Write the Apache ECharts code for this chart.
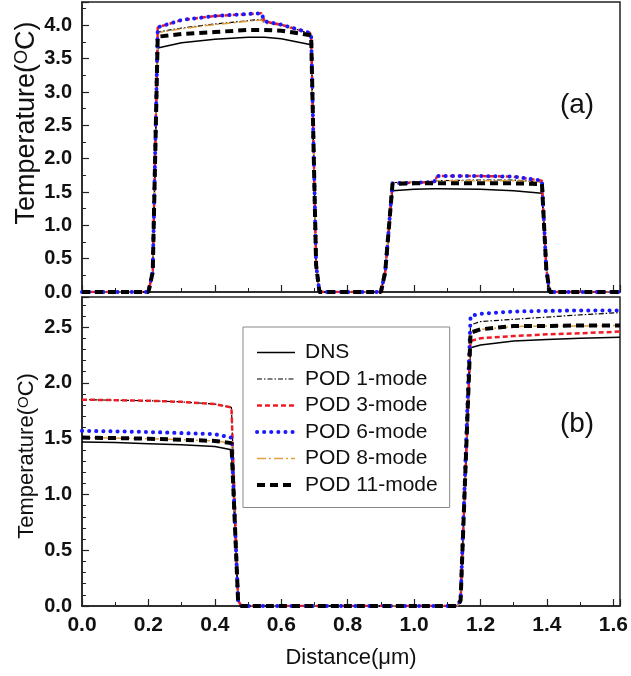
<!DOCTYPE html>
<html><head><meta charset="utf-8">
<script src="https://cdn.jsdelivr.net/npm/echarts@6/dist/echarts.min.js"></script>
<style>html,body{margin:0;padding:0;background:#fff}#c{width:631px;height:676px}</style>
</head><body><div id="c"></div><script>
// ---- data ----
const seriesNames = ['DNS', 'POD 1-mode', 'POD 3-mode', 'POD 6-mode', 'POD 8-mode', 'POD 11-mode'];

// panel (a)
const topX     = [0, 0.2, 0.213, 0.228, 0.3, 0.4, 0.5, 0.54, 0.55, 0.6, 0.69, 0.705, 0.715, 0.9, 0.913, 0.935, 1.0, 1.06, 1.07, 1.2, 1.3, 1.385, 1.398, 1.408, 1.62];
const topDNS   = [0, 0, 0.3, 3.66, 3.74, 3.79, 3.82, 3.82, 3.82, 3.80, 3.71, 0.4, 0, 0, 0.3, 1.52, 1.54, 1.55, 1.55, 1.54, 1.52, 1.48, 0.35, 0, 0];
const topPOD1  = [0, 0, 0.3, 3.90, 3.96, 4.02, 4.07, 4.09, 4.04, 4.01, 3.87, 0.4, 0, 0, 0.3, 1.64, 1.65, 1.66, 1.67, 1.68, 1.68, 1.65, 0.35, 0, 0];
const topPOD3  = [0, 0, 0.3, 3.97, 4.08, 4.14, 4.17, 4.18, 4.06, 4.01, 3.88, 0.4, 0, 0, 0.3, 1.63, 1.64, 1.65, 1.74, 1.74, 1.73, 1.67, 0.35, 0, 0];
const topPOD6  = [0, 0, 0.3, 3.97, 4.08, 4.14, 4.17, 4.18, 4.06, 4.01, 3.88, 0.4, 0, 0, 0.3, 1.63, 1.64, 1.65, 1.74, 1.74, 1.73, 1.67, 0.35, 0, 0];
const topPOD8  = [0, 0, 0.3, 3.89, 3.95, 4.01, 4.06, 4.08, 4.03, 4.00, 3.86, 0.4, 0, 0, 0.3, 1.64, 1.65, 1.66, 1.67, 1.67, 1.67, 1.65, 0.35, 0, 0];
const topPOD11 = [0, 0, 0.3, 3.83, 3.87, 3.90, 3.93, 3.93, 3.93, 3.92, 3.85, 0.4, 0, 0, 0.3, 1.62, 1.63, 1.63, 1.63, 1.63, 1.63, 1.62, 0.35, 0, 0];

// panel (b)
const botX     = [0, 0.1, 0.2, 0.3, 0.4, 0.45, 0.47, 0.48, 0.6, 0.8, 1.0, 1.13, 1.14, 1.17, 1.2, 1.3, 1.4, 1.5, 1.62];
const botDNS   = [1.47, 1.465, 1.455, 1.445, 1.43, 1.40, 0.05, 0, 0, 0, 0, 0, 0.05, 2.315, 2.34, 2.375, 2.39, 2.40, 2.41];
const botPOD1  = [1.85, 1.845, 1.84, 1.83, 1.81, 1.78, 0.05, 0, 0, 0, 0, 0, 0.05, 2.52, 2.55, 2.57, 2.59, 2.61, 2.63];
const botPOD3  = [1.85, 1.845, 1.84, 1.83, 1.81, 1.78, 0.05, 0, 0, 0, 0, 0, 0.05, 2.375, 2.40, 2.42, 2.435, 2.445, 2.46];
const botPOD6  = [1.57, 1.565, 1.56, 1.55, 1.54, 1.51, 0.05, 0, 0, 0, 0, 0, 0.05, 2.60, 2.62, 2.64, 2.645, 2.65, 2.65];
const botPOD8  = [1.51, 1.505, 1.50, 1.49, 1.48, 1.46, 0.05, 0, 0, 0, 0, 0, 0.05, 2.45, 2.48, 2.505, 2.51, 2.51, 2.515];
const botPOD11 = [1.51, 1.505, 1.50, 1.49, 1.48, 1.46, 0.05, 0, 0, 0, 0, 0, 0.05, 2.45, 2.48, 2.51, 2.51, 2.515, 2.515];

// ---- styles ----
const FONT = '"Liberation Sans", Arial, sans-serif';
const styles = {
  'DNS':         { color: '#000000', width: 1.5, type: 'solid', z: 1 },
  'POD 1-mode':  { color: '#000000', width: 1.2, type: [5, 2, 1.5, 2], z: 2 },
  'POD 8-mode':  { color: '#e0a040', width: 1.5, type: [9, 3, 2, 3], z: 3 },
  'POD 3-mode':  { color: '#ee1c25', width: 2.5, type: [5, 3], z: 4 },
  'POD 6-mode':  { color: '#1a1aff', width: 4, type: [0.1, 7], cap: 'round', z: 5 },
  'POD 11-mode': { color: '#000000', width: 4, type: [8, 5], z: 6 }
};
const topData = { 'DNS': topDNS, 'POD 1-mode': topPOD1, 'POD 3-mode': topPOD3, 'POD 6-mode': topPOD6, 'POD 8-mode': topPOD8, 'POD 11-mode': topPOD11 };
const botData = { 'DNS': botDNS, 'POD 1-mode': botPOD1, 'POD 3-mode': botPOD3, 'POD 6-mode': botPOD6, 'POD 8-mode': botPOD8, 'POD 11-mode': botPOD11 };
const drawOrder = ['DNS', 'POD 1-mode', 'POD 8-mode', 'POD 3-mode', 'POD 6-mode', 'POD 11-mode'];

function lineStyleOf(name) {
  const s = styles[name];
  return { color: s.color, width: s.width, type: s.type, cap: s.cap || 'butt', opacity: 1 };
}
function mk(name, xs, ys, idx) {
  const s = styles[name];
  return {
    name, type: 'line', xAxisIndex: idx, yAxisIndex: idx,
    symbol: 'none', showSymbol: false, animation: false, z: s.z,
    data: xs.map((x, i) => [x, ys[i]]),
    lineStyle: lineStyleOf(name),
    itemStyle: { color: s.color }
  };
}
const series = [];
drawOrder.forEach(n => series.push(mk(n, topX, topData[n], 0)));
drawOrder.forEach(n => series.push(mk(n, botX, botData[n], 1)));

const axisLine = { show: true, lineStyle: { color: '#222', width: 1.5 } };
function xAx(idx, labels) {
  return {
    type: 'value', gridIndex: idx, min: 0, max: 1.62, interval: 0.2,
    axisLine, splitLine: { show: false },
    axisTick: { inside: true, length: 7, lineStyle: { color: '#222', width: 1.2 } },
    minorTick: { show: true, splitNumber: 2, length: 4, lineStyle: { color: '#222', width: 1 } },
    axisLabel: labels ? { show: true, fontFamily: FONT, fontSize: 21, fontWeight: 'bold', color: '#111', margin: 9,
      showMaxLabel: false, formatter: v => v.toFixed(1) } : { show: false },
    name: labels ? 'Distance(\u03bcm)' : '', nameLocation: 'middle', nameGap: 41,
    nameTextStyle: { fontFamily: FONT, fontSize: 22, color: '#111' }
  };
}
function yAx(idx, max, minorSplit) {
  return {
    type: 'value', gridIndex: idx, min: 0, max, interval: 0.5,
    axisLine, splitLine: { show: false },
    axisTick: { inside: true, length: 7, lineStyle: { color: '#222', width: 1.2 } },
    minorTick: { show: true, splitNumber: minorSplit, length: 4, lineStyle: { color: '#222', width: 1 } },
    axisLabel: { fontFamily: FONT, fontSize: 20, fontWeight: 'bold', color: '#111', margin: 10,
      showMaxLabel: false, formatter: v => v.toFixed(1) }
  };
}

const chart = echarts.init(document.getElementById('c'), null, { renderer: 'canvas' });
chart.setOption({
  backgroundColor: '#fff',
  animation: false,
  grid: [
    { left: 82, right: 11, top: 2, height: 290, show: true, borderColor: '#222', borderWidth: 1.5 },
    { left: 82, right: 11, top: 297, height: 309, show: true, borderColor: '#222', borderWidth: 1.5 }
  ],
  xAxis: [xAx(0, false), xAx(1, true)],
  yAxis: [yAx(0, 4.35, 2), yAx(1, 2.77, 5)],
  legend: {
    data: seriesNames.map(n => ({ name: n, lineStyle: lineStyleOf(n), itemStyle: { opacity: 0 } })),
    orient: 'vertical', left: 243, top: 327,
    padding: [15, 12, 12, 12], itemWidth: 38, itemHeight: 14, itemGap: 5.5,
    borderColor: '#888', borderWidth: 1, backgroundColor: '#fff',
    itemStyle: { opacity: 0 },
    textStyle: { fontFamily: FONT, fontSize: 21, color: '#111', lineHeight: 20, padding: [0, 0, 0, 5] },
    selectedMode: false
  },
  graphic: [
    { type: 'text', x: 27, y: 123, rotation: Math.PI / 2, z: 10,
      style: { text: '{a|Temperature(}{s|O}{a|C)}', align: 'center', verticalAlign: 'middle',
        rich: { a: { fontFamily: FONT, fontSize: 27, fill: '#111' }, s: { fontFamily: FONT, fontSize: 18, fill: '#111', verticalAlign: 'top' } } } },
    { type: 'text', x: 27, y: 456, rotation: Math.PI / 2, z: 10,
      style: { text: '{a|Temperature(}{s|O}{a|C)}', align: 'center', verticalAlign: 'middle',
        rich: { a: { fontFamily: FONT, fontSize: 22, fill: '#111' }, s: { fontFamily: FONT, fontSize: 15, fill: '#111', verticalAlign: 'top' } } } },
    { type: 'text', x: 577, y: 105, z: 10,
      style: { text: '(a)', font: '28px ' + FONT, fill: '#111', align: 'center', verticalAlign: 'middle' } },
    { type: 'text', x: 577, y: 424, z: 10,
      style: { text: '(b)', font: '28px ' + FONT, fill: '#111', align: 'center', verticalAlign: 'middle' } }
  ],
  series
});
</script></body></html>
